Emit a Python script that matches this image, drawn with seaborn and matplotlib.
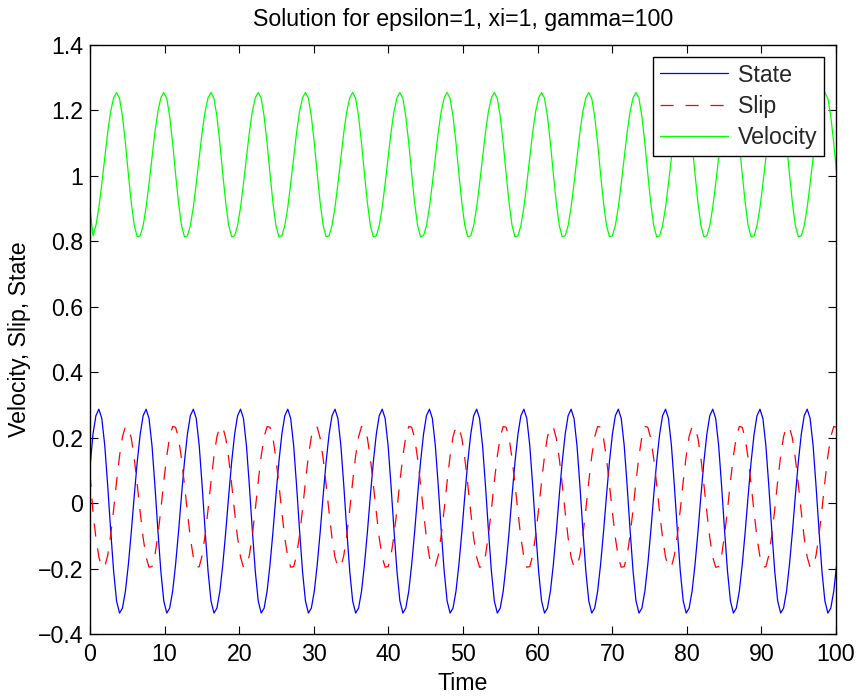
import numpy as np
import pandas as pd
import matplotlib
matplotlib.use("Agg")
import matplotlib.pyplot as plt
import seaborn as sns

# ---------------- data ----------------
time = [
    0.00, 0.40, 0.79, 1.19, 1.58, 1.98, 2.37, 2.77, 3.17, 3.56, 3.96, 4.35, 4.75, 5.14, 5.54, 5.93,
    6.33, 6.73, 7.12, 7.52, 7.91, 8.31, 8.70, 9.10, 9.50, 9.89, 10.29, 10.68, 11.08, 11.47, 11.87, 12.26,
    12.66, 13.06, 13.45, 13.85, 14.24, 14.64, 15.03, 15.43, 15.83, 16.22, 16.62, 17.01, 17.41, 17.80, 18.20, 18.59,
    18.99, 19.39, 19.78, 20.18, 20.57, 20.97, 21.36, 21.76, 22.16, 22.55, 22.95, 23.34, 23.74, 24.13, 24.53, 24.92,
    25.32, 25.72, 26.11, 26.51, 26.90, 27.30, 27.69, 28.09, 28.49, 28.88, 29.28, 29.67, 30.07, 30.46, 30.86, 31.25,
    31.65, 32.05, 32.44, 32.84, 33.23, 33.63, 34.02, 34.42, 34.82, 35.21, 35.61, 36.00, 36.40, 36.79, 37.19, 37.58,
    37.98, 38.38, 38.77, 39.17, 39.56, 39.96, 40.35, 40.75, 41.15, 41.54, 41.94, 42.33, 42.73, 43.12, 43.52, 43.91,
    44.31, 44.71, 45.10, 45.50, 45.89, 46.29, 46.68, 47.08, 47.48, 47.87, 48.27, 48.66, 49.06, 49.45, 49.85, 50.24,
    50.64, 51.04, 51.43, 51.83, 52.22, 52.62, 53.01, 53.41, 53.81, 54.20, 54.60, 54.99, 55.39, 55.78, 56.18, 56.57,
    56.97, 57.37, 57.76, 58.16, 58.55, 58.95, 59.34, 59.74, 60.14, 60.53, 60.93, 61.32, 61.72, 62.11, 62.51, 62.90,
    63.30, 63.70, 64.09, 64.49, 64.88, 65.28, 65.67, 66.07, 66.47, 66.86, 67.26, 67.65, 68.05, 68.44, 68.84, 69.23,
    69.63, 70.03, 70.42, 70.82, 71.21, 71.61, 72.00, 72.40, 72.80, 73.19, 73.59, 73.98, 74.38, 74.77, 75.17, 75.56,
    75.96, 76.36, 76.75, 77.15, 77.54, 77.94, 78.33, 78.73, 79.13, 79.52, 79.92, 80.31, 80.71, 81.10, 81.50, 81.89,
    82.29, 82.69, 83.08, 83.48, 83.87, 84.27, 84.66, 85.06, 85.46, 85.85, 86.25, 86.64, 87.04, 87.43, 87.83, 88.22,
    88.62, 89.02, 89.41, 89.81, 90.20, 90.60, 90.99, 91.39, 91.79, 92.18, 92.58, 92.97, 93.37, 93.76, 94.16, 94.55,
    94.95, 95.35, 95.74, 96.14, 96.53, 96.93, 97.32, 97.72, 98.12, 98.51, 98.91, 99.30, 99.70, 100.09,
]

state = [
    0.110, 0.211, 0.267, 0.287, 0.259, 0.176, 0.054, -0.083, -0.209, -0.299, -0.336, -0.321, -0.269, -0.188, -0.087, 0.022,
    0.126, 0.211, 0.267, 0.287, 0.259, 0.176, 0.054, -0.083, -0.209, -0.299, -0.336, -0.321, -0.269, -0.188, -0.087, 0.022,
    0.126, 0.211, 0.267, 0.287, 0.259, 0.176, 0.054, -0.083, -0.209, -0.299, -0.336, -0.321, -0.269, -0.188, -0.087, 0.022,
    0.126, 0.211, 0.267, 0.287, 0.259, 0.176, 0.054, -0.083, -0.209, -0.299, -0.336, -0.321, -0.269, -0.188, -0.087, 0.022,
    0.126, 0.211, 0.267, 0.287, 0.259, 0.176, 0.054, -0.083, -0.209, -0.299, -0.336, -0.321, -0.269, -0.188, -0.087, 0.022,
    0.126, 0.211, 0.267, 0.287, 0.259, 0.176, 0.054, -0.083, -0.209, -0.299, -0.336, -0.321, -0.269, -0.188, -0.087, 0.022,
    0.126, 0.211, 0.267, 0.287, 0.259, 0.176, 0.054, -0.083, -0.209, -0.299, -0.336, -0.321, -0.269, -0.188, -0.087, 0.022,
    0.126, 0.211, 0.267, 0.287, 0.259, 0.176, 0.054, -0.083, -0.209, -0.299, -0.336, -0.321, -0.269, -0.188, -0.087, 0.022,
    0.126, 0.211, 0.267, 0.287, 0.259, 0.176, 0.054, -0.083, -0.209, -0.299, -0.336, -0.321, -0.269, -0.188, -0.087, 0.022,
    0.126, 0.211, 0.267, 0.287, 0.259, 0.176, 0.054, -0.083, -0.209, -0.299, -0.336, -0.321, -0.269, -0.188, -0.087, 0.022,
    0.126, 0.211, 0.267, 0.287, 0.259, 0.176, 0.054, -0.083, -0.209, -0.299, -0.336, -0.321, -0.269, -0.188, -0.087, 0.022,
    0.126, 0.211, 0.267, 0.287, 0.259, 0.176, 0.054, -0.083, -0.209, -0.299, -0.336, -0.321, -0.269, -0.188, -0.087, 0.022,
    0.126, 0.211, 0.267, 0.287, 0.259, 0.176, 0.054, -0.083, -0.209, -0.299, -0.336, -0.321, -0.269, -0.188, -0.087, 0.022,
    0.126, 0.211, 0.267, 0.287, 0.259, 0.176, 0.054, -0.083, -0.209, -0.299, -0.336, -0.321, -0.269, -0.188, -0.087, 0.022,
    0.126, 0.211, 0.267, 0.287, 0.259, 0.176, 0.054, -0.083, -0.209, -0.299, -0.336, -0.321, -0.269, -0.188, -0.087, 0.022,
    0.126, 0.211, 0.267, 0.287, 0.259, 0.176, 0.054, -0.083, -0.209, -0.299, -0.336, -0.321, -0.269, -0.188,
]

slip = [
    0.090, -0.028, -0.106, -0.165, -0.196, -0.194, -0.160, -0.098, -0.019, 0.066, 0.144, 0.203, 0.234, 0.232, 0.198, 0.137,
    0.057, -0.028, -0.106, -0.165, -0.196, -0.194, -0.160, -0.098, -0.019, 0.066, 0.144, 0.203, 0.234, 0.232, 0.198, 0.137,
    0.057, -0.028, -0.106, -0.165, -0.196, -0.194, -0.160, -0.098, -0.019, 0.066, 0.144, 0.203, 0.234, 0.232, 0.198, 0.137,
    0.057, -0.028, -0.106, -0.165, -0.196, -0.194, -0.160, -0.098, -0.019, 0.066, 0.144, 0.203, 0.234, 0.232, 0.198, 0.137,
    0.057, -0.028, -0.106, -0.165, -0.196, -0.194, -0.160, -0.098, -0.019, 0.066, 0.144, 0.203, 0.234, 0.232, 0.198, 0.137,
    0.057, -0.028, -0.106, -0.165, -0.196, -0.194, -0.160, -0.098, -0.019, 0.066, 0.144, 0.203, 0.234, 0.232, 0.198, 0.137,
    0.057, -0.028, -0.106, -0.165, -0.196, -0.194, -0.160, -0.098, -0.019, 0.066, 0.144, 0.203, 0.234, 0.232, 0.198, 0.137,
    0.057, -0.028, -0.106, -0.165, -0.196, -0.194, -0.160, -0.098, -0.019, 0.066, 0.144, 0.203, 0.234, 0.232, 0.198, 0.137,
    0.057, -0.028, -0.106, -0.165, -0.196, -0.194, -0.160, -0.098, -0.019, 0.066, 0.144, 0.203, 0.234, 0.232, 0.198, 0.137,
    0.057, -0.028, -0.106, -0.165, -0.196, -0.194, -0.160, -0.098, -0.019, 0.066, 0.144, 0.203, 0.234, 0.232, 0.198, 0.137,
    0.057, -0.028, -0.106, -0.165, -0.196, -0.194, -0.160, -0.098, -0.019, 0.066, 0.144, 0.203, 0.234, 0.232, 0.198, 0.137,
    0.057, -0.028, -0.106, -0.165, -0.196, -0.194, -0.160, -0.098, -0.019, 0.066, 0.144, 0.203, 0.234, 0.232, 0.198, 0.137,
    0.057, -0.028, -0.106, -0.165, -0.196, -0.194, -0.160, -0.098, -0.019, 0.066, 0.144, 0.203, 0.234, 0.232, 0.198, 0.137,
    0.057, -0.028, -0.106, -0.165, -0.196, -0.194, -0.160, -0.098, -0.019, 0.066, 0.144, 0.203, 0.234, 0.232, 0.198, 0.137,
    0.057, -0.028, -0.106, -0.165, -0.196, -0.194, -0.160, -0.098, -0.019, 0.066, 0.144, 0.203, 0.234, 0.232, 0.198, 0.137,
    0.057, -0.028, -0.106, -0.165, -0.196, -0.194, -0.160, -0.098, -0.019, 0.066, 0.144, 0.203, 0.234, 0.232,
]

velocity = [
    0.900, 0.817, 0.848, 0.904, 0.976, 1.056, 1.133, 1.197, 1.239, 1.255, 1.237, 1.182, 1.100, 1.006, 0.917, 0.849,
    0.814, 0.817, 0.848, 0.904, 0.976, 1.056, 1.133, 1.197, 1.239, 1.255, 1.237, 1.182, 1.100, 1.006, 0.917, 0.849,
    0.814, 0.817, 0.848, 0.904, 0.976, 1.056, 1.133, 1.197, 1.239, 1.255, 1.237, 1.182, 1.100, 1.006, 0.917, 0.849,
    0.814, 0.817, 0.848, 0.904, 0.976, 1.056, 1.133, 1.197, 1.239, 1.255, 1.237, 1.182, 1.100, 1.006, 0.917, 0.849,
    0.814, 0.817, 0.848, 0.904, 0.976, 1.056, 1.133, 1.197, 1.239, 1.255, 1.237, 1.182, 1.100, 1.006, 0.917, 0.849,
    0.814, 0.817, 0.848, 0.904, 0.976, 1.056, 1.133, 1.197, 1.239, 1.255, 1.237, 1.182, 1.100, 1.006, 0.917, 0.849,
    0.814, 0.817, 0.848, 0.904, 0.976, 1.056, 1.133, 1.197, 1.239, 1.255, 1.237, 1.182, 1.100, 1.006, 0.917, 0.849,
    0.814, 0.817, 0.848, 0.904, 0.976, 1.056, 1.133, 1.197, 1.239, 1.255, 1.237, 1.182, 1.100, 1.006, 0.917, 0.849,
    0.814, 0.817, 0.848, 0.904, 0.976, 1.056, 1.133, 1.197, 1.239, 1.255, 1.237, 1.182, 1.100, 1.006, 0.917, 0.849,
    0.814, 0.817, 0.848, 0.904, 0.976, 1.056, 1.133, 1.197, 1.239, 1.255, 1.237, 1.182, 1.100, 1.006, 0.917, 0.849,
    0.814, 0.817, 0.848, 0.904, 0.976, 1.056, 1.133, 1.197, 1.239, 1.255, 1.237, 1.182, 1.100, 1.006, 0.917, 0.849,
    0.814, 0.817, 0.848, 0.904, 0.976, 1.056, 1.133, 1.197, 1.239, 1.255, 1.237, 1.182, 1.100, 1.006, 0.917, 0.849,
    0.814, 0.817, 0.848, 0.904, 0.976, 1.056, 1.133, 1.197, 1.239, 1.255, 1.237, 1.182, 1.100, 1.006, 0.917, 0.849,
    0.814, 0.817, 0.848, 0.904, 0.976, 1.056, 1.133, 1.197, 1.239, 1.255, 1.237, 1.182, 1.100, 1.006, 0.917, 0.849,
    0.814, 0.817, 0.848, 0.904, 0.976, 1.056, 1.133, 1.197, 1.239, 1.255, 1.237, 1.182, 1.100, 1.006, 0.917, 0.849,
    0.814, 0.817, 0.848, 0.904, 0.976, 1.056, 1.133, 1.197, 1.239, 1.255, 1.237, 1.182, 1.100, 1.006,
]

series_names = ["State", "Slip", "Velocity"]
series_colors = ["#0000ff", "#ff0000", "#00ff00"]

x_ticks = [0, 10, 20, 30, 40, 50, 60, 70, 80, 90, 100]
x_tick_labels = ["0", "10", "20", "30", "40", "50", "60", "70", "80", "90", "100"]
y_ticks = [-0.4, -0.2, 0, 0.2, 0.4, 0.6, 0.8, 1, 1.2, 1.4]
y_tick_labels = ["\u22120.4", "\u22120.2", "0", "0.2", "0.4", "0.6", "0.8", "1", "1.2", "1.4"]

title_text = "Solution for epsilon=1, xi=1, gamma=100"
x_label = "Time"
y_label = "Velocity, Slip, State"

# ---------------- styling ----------------
FS = 16.7
sns.set_theme(style="white")
plt.rcParams["font.family"] = ["Liberation Sans", "DejaVu Sans"]
plt.rcParams["lines.scale_dashes"] = False

fig = plt.figure(figsize=(8.62, 6.96), dpi=100)
ax = fig.add_axes([90 / 862, 1 - 634 / 696, (836 - 90) / 862, (634 - 45) / 696])

df = pd.DataFrame({"Time": time, "State": state, "Slip": slip, "Velocity": velocity})

styles = {"State": "-", "Slip": (0, (9.5, 8.5)), "Velocity": "-"}
for name, col in zip(series_names, series_colors):
    sns.lineplot(data=df, x="Time", y=name, ax=ax, color=col, linewidth=0.9,
                 linestyle=styles[name], label=name, sort=False, estimator=None)

ax.set_xlim(0, 100)
ax.set_ylim(-0.4, 1.4)
ax.set_xticks(x_ticks, x_tick_labels)
ax.set_yticks(y_ticks, y_tick_labels)

ax.tick_params(axis="both", which="both", direction="in", top=True, right=True,
               bottom=True, left=True, length=5.5, width=0.8, labelsize=FS,
               colors="black")
ax.tick_params(axis="x", pad=6.5)
ax.tick_params(axis="y", pad=5)
for sp in ax.spines.values():
    sp.set_visible(True)
    sp.set_color("black")
    sp.set_linewidth(1.0)

ax.set_title(title_text, fontsize=FS, color="black", pad=14)
ax.set_xlabel(x_label, fontsize=FS, color="black", labelpad=4.5)
ax.set_ylabel(y_label, fontsize=FS, color="black", labelpad=5)

leg = ax.legend(loc="upper right", fontsize=FS, frameon=True, fancybox=False,
                edgecolor="black", framealpha=1.0, borderaxespad=0.5,
                handlelength=2.93, handletextpad=0.43, labelspacing=0.36,
                borderpad=0.3)
leg.get_frame().set_linewidth(1.0)
for line in leg.get_lines():
    line.set_linewidth(0.9)

fig.savefig("out.png", dpi=100, facecolor="white")
